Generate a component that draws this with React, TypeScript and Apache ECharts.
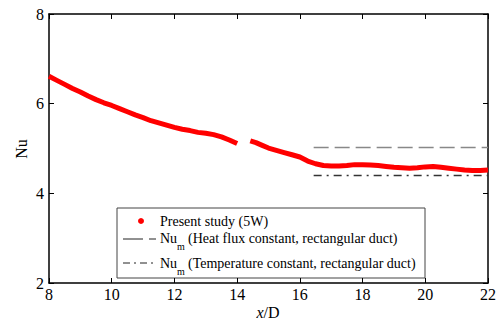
import React, { useEffect, useRef } from "react";
import * as echarts from "echarts";

const xTicks = [8, 10, 12, 14, 16, 18, 20, 22];
const yTicks = [2, 4, 6, 8];

// Present study (5W): x/D and Nu (gap near x/D = 14.2)
const xPresent = [
  8.0, 8.25, 8.5, 8.75, 9.0, 9.25, 9.5, 9.75, 10.0, 10.25, 10.5, 10.75, 11.0, 11.25, 11.5, 11.75,
  12.0, 12.25, 12.5, 12.75, 13.0, 13.25, 13.5, 13.75, 14.0,
  14.42, 14.6, 14.8, 15.0, 15.25, 15.5, 15.75, 16.0, 16.25, 16.5, 16.75, 17.0, 17.25, 17.5, 17.75,
  18.0, 18.25, 18.5, 18.75, 19.0, 19.25, 19.5, 19.75, 20.0, 20.25, 20.5, 20.75, 21.0, 21.25, 21.5,
  21.75, 22.0,
];
const nuPresent = [
  6.61, 6.52, 6.43, 6.34, 6.26, 6.17, 6.09, 6.02, 5.96, 5.89, 5.82, 5.75, 5.69, 5.62, 5.57, 5.52,
  5.47, 5.43, 5.4, 5.36, 5.34, 5.31, 5.26, 5.19, 5.11,
  5.17, 5.13, 5.07, 5.01, 4.96, 4.91, 4.86, 4.81, 4.72, 4.66, 4.62, 4.61, 4.61, 4.62, 4.64,
  4.64, 4.63, 4.62, 4.6, 4.58, 4.57, 4.56, 4.57, 4.59, 4.6, 4.58, 4.56, 4.54, 4.52, 4.51,
  4.51, 4.52,
];
const gapAfter = 14.0;

// Reference mean Nusselt numbers (rectangular duct)
const numRange = [16.44, 22];
const numHeatFlux = 5.02;
const numTempConst = 4.4;

const legendLabels = [
  "Present study (5W)",
  "(Heat flux constant, rectangular duct)",
  "(Temperature constant, rectangular duct)",
];

const FONT = "Liberation Serif";

export default function App() {
  const ref = useRef<HTMLDivElement>(null);
  useEffect(() => {
    if (!ref.current) return;
    const chart = echarts.init(ref.current, undefined, { renderer: "svg" });

    const presentData: any[] = [];
    xPresent.forEach((x, i) => {
      presentData.push([x, nuPresent[i]]);
      if (x === gapAfter) presentData.push([x + 0.2, null]);
    });

    const axisCommon = {
      axisLine: { lineStyle: { color: "#000", width: 1.5 } },
      axisTick: { inside: true, length: 5, lineStyle: { color: "#000", width: 1 } },
      splitLine: { show: false },
    };

    chart.setOption({
      animation: false,
      backgroundColor: "#fff",
      textStyle: { fontFamily: FONT },
      grid: { left: 49, top: 14, right: 8, bottom: 38 },
      xAxis: [
        {
          ...axisCommon,
          type: "value",
          min: xTicks[0],
          max: xTicks[xTicks.length - 1],
          interval: 2,
          position: "bottom",
          axisLabel: { color: "#000", fontFamily: FONT, fontSize: 16, margin: 3 },
        },
        {
          ...axisCommon,
          type: "value",
          min: xTicks[0],
          max: xTicks[xTicks.length - 1],
          interval: 2,
          position: "top",
          axisLabel: { show: false },
        },
      ],
      yAxis: [
        {
          ...axisCommon,
          type: "value",
          min: yTicks[0],
          max: yTicks[yTicks.length - 1],
          interval: 2,
          position: "left",
          axisLabel: { color: "#000", fontFamily: FONT, fontSize: 16, margin: 5 },
        },
        {
          ...axisCommon,
          type: "value",
          min: yTicks[0],
          max: yTicks[yTicks.length - 1],
          interval: 2,
          position: "right",
          axisLabel: { show: false },
        },
      ],
      series: [
        {
          type: "line",
          data: [
            [numRange[0], numHeatFlux],
            [numRange[1], numHeatFlux],
          ],
          showSymbol: false,
          lineStyle: { color: "#888", width: 1.5, type: [15, 6] },
          silent: true,
        },
        {
          type: "line",
          data: [
            [numRange[0], numTempConst],
            [numRange[1], numTempConst],
          ],
          showSymbol: false,
          lineStyle: { color: "#333", width: 1.5, type: [8, 5, 2, 5] },
          silent: true,
        },
        {
          type: "line",
          data: presentData,
          showSymbol: false,
          connectNulls: false,
          lineStyle: { color: "#ff0000", width: 5 },
          silent: true,
          z: 3,
        },
      ],
      graphic: [
        {
          type: "text",
          x: 21,
          y: 149,
          rotation: Math.PI / 2,
          style: {
            text: "Nu",
            fontFamily: FONT,
            fontSize: 16,
            fill: "#000",
            align: "center",
            verticalAlign: "middle",
          },
        },
        {
          type: "text",
          x: 268,
          y: 312,
          style: {
            text: "{i|x}{n|/D}",
            fill: "#000",
            align: "center",
            verticalAlign: "middle",
            rich: {
              i: { fontFamily: FONT, fontSize: 16, fontStyle: "italic", fill: "#000" },
              n: { fontFamily: FONT, fontSize: 16, fill: "#000" },
            },
          },
        },
        {
          type: "group",
          z: 10,
          children: [
            {
              type: "rect",
              shape: { x: 117, y: 208, width: 308, height: 70 },
              style: { fill: "#fff", stroke: "#444", lineWidth: 1 },
            },
            {
              type: "circle",
              shape: { cx: 141, cy: 221, r: 3 },
              style: { fill: "#ff0000" },
            },
            {
              type: "text",
              x: 160,
              y: 221,
              style: { text: legendLabels[0], fontFamily: FONT, fontSize: 14, fill: "#000", verticalAlign: "middle" },
            },
            {
              type: "line",
              shape: { x1: 123, y1: 239, x2: 156, y2: 239 },
              style: { stroke: "#222", lineWidth: 1, lineDash: [20, 6] },
            },
            {
              type: "text",
              x: 160,
              y: 238,
              style: { text: "Nu", fontFamily: FONT, fontSize: 14, fill: "#000", verticalAlign: "middle" },
            },
            {
              type: "text",
              x: 177,
              y: 246,
              style: { text: "m", fontFamily: FONT, fontSize: 10, fill: "#000", verticalAlign: "middle" },
            },
            {
              type: "text",
              x: 188,
              y: 238,
              style: { text: legendLabels[1], fontFamily: FONT, fontSize: 14, fill: "#000", verticalAlign: "middle" },
            },
            {
              type: "line",
              shape: { x1: 123, y1: 263, x2: 156, y2: 263 },
              style: { stroke: "#222", lineWidth: 1, lineDash: [7, 4, 2, 4] },
            },
            {
              type: "text",
              x: 160,
              y: 263,
              style: { text: "Nu", fontFamily: FONT, fontSize: 14, fill: "#000", verticalAlign: "middle" },
            },
            {
              type: "text",
              x: 177,
              y: 271,
              style: { text: "m", fontFamily: FONT, fontSize: 10, fill: "#000", verticalAlign: "middle" },
            },
            {
              type: "text",
              x: 188,
              y: 263,
              style: { text: legendLabels[2], fontFamily: FONT, fontSize: 14, fill: "#000", verticalAlign: "middle" },
            },
          ],
        },
      ],
    });
    return () => chart.dispose();
  }, []);
  return (
    <div
      ref={ref}
      style={{ position: "fixed", left: 0, top: 0, width: 499, height: 321 }}
    />
  );
}
